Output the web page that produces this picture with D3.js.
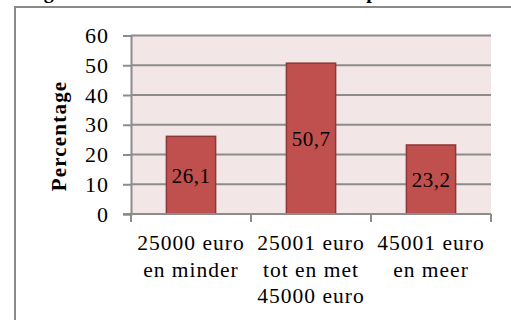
<!DOCTYPE html>
<html>
<head>
<meta charset="utf-8">
<script src="https://cdn.jsdelivr.net/npm/d3@7/dist/d3.min.js"></script>
<style>
  html, body { margin: 0; padding: 0; background: #ffffff; }
  svg { display: block; }
  text { font-family: "Liberation Serif", "DejaVu Serif", serif; fill: #000; }
</style>
</head>
<body>
<svg id="chart" width="511" height="320"></svg>
<script>
// Income categories (two or three lines each) and their percentages
const categories = ["25000 euro en minder", "25001 euro tot en met 45000 euro", "45001 euro en meer"];
const categoryLines = [["25000 euro", "en minder"], ["25001 euro", "tot en met", "45000 euro"], ["45001 euro", "en meer"]];
const values = [26.1, 50.7, 23.2];
const valueLabels = ["26,1", "50,7", "23,2"];
const yTicks = [0, 10, 20, 30, 40, 50, 60];
const yTitle = "Percentage";
const caption = "Figuur 3: Netto inkomen van de ouders per huishouden";

const svg = d3.select("#chart");
const W = 511, H = 320;
const plot = { left: 131, right: 491, top: 35.5, bottom: 214 };

// Caption above the frame (runs off the top edge)
svg.append("text")
  .attr("x", 26).attr("y", -2)
  .attr("font-size", 20).attr("font-weight", "bold")
  .text(caption);

// Chart frame
svg.append("rect")
  .attr("x", 15).attr("y", 7)
  .attr("width", W + 20).attr("height", H + 20)
  .attr("fill", "#ffffff")
  .attr("stroke", "#8a8a8a").attr("stroke-width", 2);

const x = d3.scaleBand()
  .domain(categories)
  .range([plot.left, plot.right])
  .paddingInner(0.59)
  .paddingOuter(0.295);

const y = d3.scaleLinear()
  .domain([0, 60])
  .range([plot.bottom, plot.top]);

// Plot background
svg.append("rect")
  .attr("x", plot.left).attr("y", plot.top)
  .attr("width", plot.right - plot.left).attr("height", plot.bottom - plot.top)
  .attr("fill", "#f2e6e6");

// Horizontal gridlines
svg.append("g")
  .selectAll("line")
  .data(yTicks.filter(d => d > 0))
  .join("line")
  .attr("x1", plot.left).attr("x2", plot.right)
  .attr("y1", d => y(d)).attr("y2", d => y(d))
  .attr("stroke", "#8c8c8c").attr("stroke-width", 2);

// Bars
svg.append("g")
  .selectAll("rect")
  .data(values)
  .join("rect")
  .attr("x", (d, i) => x(categories[i]))
  .attr("y", d => y(d))
  .attr("width", x.bandwidth())
  .attr("height", d => y(0) - y(d))
  .attr("fill", "#c0504d")
  .attr("stroke", "#8c3836").attr("stroke-width", 1.5);

// Value labels, centred inside each bar
svg.append("g")
  .selectAll("text")
  .data(values)
  .join("text")
  .attr("x", (d, i) => x(categories[i]) + x.bandwidth() / 2)
  .attr("y", d => (y(d) + y(0)) / 2)
  .attr("dy", "0.35em")
  .attr("text-anchor", "middle")
  .attr("font-size", 21)
  .attr("letter-spacing", 0.5)
  .text((d, i) => valueLabels[i]);

// Y axis
const yAxis = d3.axisLeft(y)
  .tickValues(yTicks)
  .tickSize(8)
  .tickPadding(14)
  .tickFormat(d3.format("d"));
const gy = svg.append("g")
  .attr("transform", `translate(${plot.left},0)`)
  .call(yAxis);
gy.select(".domain").attr("stroke", "#8c8c8c").attr("stroke-width", 2);
gy.selectAll(".tick line").attr("stroke", "#8c8c8c").attr("stroke-width", 2);
gy.selectAll(".tick text")
  .attr("font-family", "Liberation Serif, serif")
  .attr("font-size", 22)
  .attr("letter-spacing", 1)
  .attr("fill", "#000");

// X axis: baseline with ticks at category boundaries
const step = x.step();
const boundaries = d3.range(categories.length + 1).map(i => plot.left + i * step);
svg.append("line")
  .attr("x1", plot.left - 8).attr("x2", plot.right)
  .attr("y1", y(0)).attr("y2", y(0))
  .attr("stroke", "#8c8c8c").attr("stroke-width", 2);
svg.append("g")
  .selectAll("line")
  .data(boundaries)
  .join("line")
  .attr("x1", d => d).attr("x2", d => d)
  .attr("y1", y(0)).attr("y2", y(0) + 8)
  .attr("stroke", "#8c8c8c").attr("stroke-width", 2);

// Category labels
const catG = svg.append("g");
categoryLines.forEach((lines, i) => {
  const t = catG.append("text")
    .attr("x", x(categories[i]) + x.bandwidth() / 2)
    .attr("y", 250)
    .attr("text-anchor", "middle")
    .attr("font-size", 21.5)
    .attr("letter-spacing", 1);
  lines.forEach((ln, j) => {
    t.append("tspan")
      .attr("x", x(categories[i]) + x.bandwidth() / 2)
      .attr("dy", j === 0 ? 0 : 26.5)
      .text(ln);
  });
});

// Y axis title
svg.append("text")
  .attr("transform", `translate(66,136) rotate(-90)`)
  .attr("text-anchor", "middle")
  .attr("font-size", 21)
  .attr("font-weight", "bold")
  .attr("letter-spacing", 1.2)
  .text(yTitle);
</script>
</body>
</html>
